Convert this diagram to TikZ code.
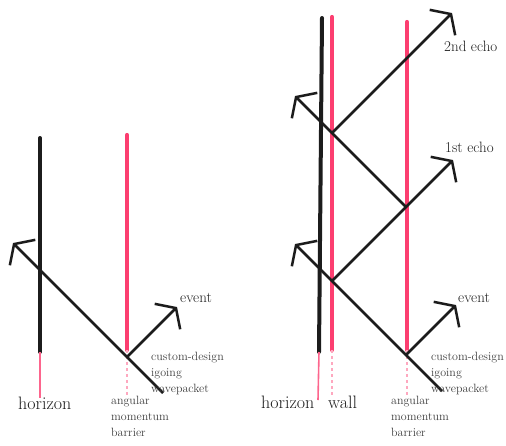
\documentclass[tikz,border=0pt]{standalone}
\usepackage{tikz}
\usetikzlibrary{arrows.meta}
\definecolor{barrierpink}{RGB}{252,62,112}
\definecolor{chalk}{RGB}{28,28,28}

\begin{document}
\begin{tikzpicture}[x=1pt,y=-1pt,
  ray/.style={line width=2.5pt,chalk},
  rayhead/.style={ray,-{Straight Barb[length=12pt,width=36pt]}},
  horizonline/.style={line width=4pt,chalk,line cap=round},
  pinkline/.style={line width=4.2pt,barrierpink,line cap=round},
  fadeline/.style={line width=2.5pt,barrierpink!45,dash pattern=on 3pt off 3pt},
  tailline/.style={line width=1.6pt,barrierpink!80},
  small/.style={font=\fontsize{12}{16}\selectfont,align=left,inner sep=0pt,text=chalk!85},
  tag/.style={font=\fontsize{15}{16}\selectfont,inner sep=0pt,text=chalk},
  big/.style={font=\fontsize{18}{20}\selectfont,inner sep=0pt,text=chalk}]
\useasboundingbox (0,0) rectangle (506,445);

 	%black hole, left
 	\draw[horizonline](40,138) -- (40,352);
 	\draw[tailline](40,352) -- (40,398);
 	\draw[pinkline](127,135) -- (127,350);
 	\draw[fadeline](127,350) -- (127,395);
 	\coordinate (inL) at (163,393);
 	\coordinate (barL) at (127,357);
 	\coordinate (tipL) at (13,243);
 	\coordinate (evL) at (177,307);
 	\draw[rayhead](inL) -- (barL) -- (tipL);
 	\draw[rayhead](barL) -- (evL);
 	\node[tag,anchor=west] (eventL) at (180,298) {event};
 	\node[small,anchor=north west] (packetL) at (151,352) {custom-design\\igoing\\wavepacket};
 	\node[small,anchor=north west] (barrierL) at (111,396) {angular\\momentum\\barrier};
 	\node[big,anchor=west] (horizonL) at (18,403) {horizon};

 	%wall, right
 	\draw[horizonline](322,18) -- (319,352);
 	\draw[tailline](319,352) -- (318,400);
 	\draw[pinkline](332,17) -- (332,350);
 	\draw[fadeline](332,350) -- (332,395);
 	\draw[pinkline](407,22) -- (407,350);
 	\draw[fadeline](407,350) -- (407,395);
 	\coordinate (inR) at (442,391);
 	\coordinate (barR1) at (406,355);
 	\coordinate (wallR1) at (332,281);
 	\coordinate (tipR1) at (295,244);
 	\coordinate (evR) at (456,305);
 	\coordinate (barR2) at (406,207);
 	\coordinate (echoR1) at (453,160);
 	\coordinate (wallR2) at (332,133);
 	\coordinate (tipR2) at (295,96);
 	\coordinate (echoR2) at (452,13);
 	\draw[rayhead](inR) -- (barR1) -- (wallR1) -- (tipR1);
 	\draw[rayhead](barR1) -- (evR);
 	\draw[rayhead](wallR1) -- (barR2) -- (echoR1);
 	\draw[rayhead](barR2) -- (wallR2) -- (tipR2);
 	\draw[rayhead](wallR2) -- (echoR2);
 	\node[tag,anchor=west] (eventR) at (458,298) {event};
 	\node[tag,anchor=west] (firstR) at (445,147) {1st echo};
 	\node[tag,anchor=west] (secondR) at (444,46) {2nd echo};
 	\node[small,anchor=north west] (packetR) at (431,352) {custom-design\\igoing\\wavepacket};
 	\node[small,anchor=north west] (barrierR) at (391,396) {angular\\momentum\\barrier};
 	\node[big,anchor=west] (horizonR) at (261,402) {horizon};
 	\node[big,anchor=west] (wallR) at (328,402) {wall};
\end{tikzpicture}
\end{document}
